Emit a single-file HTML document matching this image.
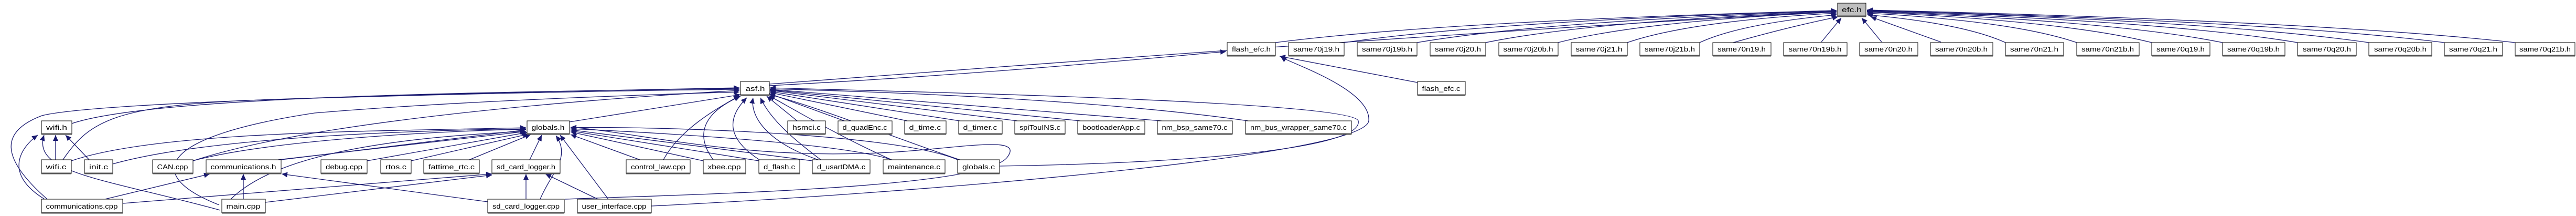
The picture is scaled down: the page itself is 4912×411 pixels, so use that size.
<!DOCTYPE html>
<html><head><meta charset="utf-8"><style>
html,body{margin:0;padding:0;background:#fff;width:4912px;height:411px;overflow:hidden}
svg{display:block}
text{font-family:"Liberation Sans",sans-serif;font-size:13px;fill:#000}
.e{fill:none;stroke:#191970;stroke-width:1.3}
.n{fill:#fff;stroke:#000;stroke-width:1}
.s{stroke:#555;stroke-width:3}
</style></head><body>
<svg width="4912" height="411" viewBox="0 0 4912 411" xmlns="http://www.w3.org/2000/svg">
<defs><marker id="a" markerUnits="userSpaceOnUse" markerWidth="12" markerHeight="10" refX="11" refY="5" orient="auto"><path d="M0,0 L11,5 L0,10 z" fill="#191970"/></marker></defs>
<g class="e" marker-end="url(#a)">
<!-- to efc.h -->
<path d="M2432,81 Q2753,40 3502,20"/>
<path d="M2563,81 Q2845,40 3502,20"/>
<path d="M2702,81 Q2942,40 3502,21"/>
<path d="M2833,81 Q3034,40 3502,22"/>
<path d="M2971,81 Q3130,40 3502,23"/>
<path d="M3103,81 Q3223,40 3502,25"/>
<path d="M3241,81 Q3319,45 3503,28"/>
<path d="M3305,81 Q3415,50 3505,32"/>
<path d="M3473,80 L3511,34"/>
<path d="M3588,80 L3550,34"/>
<path d="M3701,80 L3567,32"/>
<path d="M3824,81 Q3745,45 3560,28"/>
<path d="M3960,81 Q3840,40 3560,25"/>
<path d="M4103,81 Q3940,40 3560,23"/>
<path d="M4238,81 Q4035,40 3560,22"/>
<path d="M4381,81 Q4135,40 3560,21"/>
<path d="M4517,81 Q4230,40 3560,20"/>
<path d="M4661,81 Q4331,40 3560,20"/>
<path d="M4796,81 Q4425,40 3560,19"/>
<path d="M1467,160 C2000,120 2800,60 3502,22"/>
<!-- to flash_efc.h -->
<path d="M1467,163 C1900,140 2200,110 2338,98"/>
<path d="M2703,157 L2440,107"/>
<path d="M1242,392 C1700,370 2600,300 2610,230 C2615,170 2460,120 2442,108"/>
<!-- to asf.h -->
<path d="M1520,230 L1462,183"/>
<path d="M1610,230 L1467,178"/>
<path d="M1730,230 L1468,176"/>
<path d="M1830,230 L1468,174"/>
<path d="M1940,230 L1468,172"/>
<path d="M2060,230 L1468,171"/>
<path d="M2215,230 L1468,170"/>
<path d="M2380,230 C2100,190 1700,175 1468,169"/>
<path d="M1906,316 C2300,310 2600,280 2590,230 C2580,190 1600,172 1468,167"/>
<path d="M1086,232 L1412,180"/>
<path d="M137,235 C300,180 1000,175 1410,168"/>
<path d="M90,379 C0,300 0,250 80,220 C200,190 1000,175 1410,167"/>
<path d="M120,304 C170,230 220,200 500,190 C800,180 1200,172 1410,170"/>
<path d="M368,306 C600,230 1100,190 1410,172"/>
<path d="M418,390 C272,333 300,260 600,215 C900,190 1300,178 1410,175"/>
<path d="M1265,304 C1300,240 1380,200 1410,182"/>
<path d="M1360,304 C1320,250 1350,210 1412,183"/>
<path d="M1448,304 C1380,260 1390,220 1424,186"/>
<path d="M1560,304 C1460,270 1430,220 1436,186"/>
<path d="M1565,304 C1520,270 1470,230 1450,186"/>
<path d="M1700,304 C1600,260 1500,200 1466,182"/>
<path d="M1830,304 C1700,260 1550,200 1467,180"/>
<!-- to globals.h -->
<path d="M136,306 C300,250 700,250 1003,243"/>
<path d="M215,312 C400,260 800,248 1003,245"/>
<path d="M368,306 C500,270 800,250 1003,246"/>
<path d="M536,304 L1003,247"/>
<path d="M530,304 L1003,250"/>
<path d="M700,306 L1005,252"/>
<path d="M784,306 L1008,255"/>
<path d="M895,304 L1012,256"/>
<path d="M1010,304 L1033,257"/>
<path d="M1030,379 C1050,330 1090,300 1060,258"/>
<path d="M1160,379 L1068,257"/>
<path d="M1220,304 L1088,256"/>
<path d="M1341,306 L1088,251"/>
<path d="M1447,306 L1088,249"/>
<path d="M1549,306 L1088,247"/>
<path d="M1700,304 C1600,270 1200,250 1088,245"/>
<path d="M1826,304 C1700,250 1200,240 1088,243"/>
<path d="M1077,379 C1300,370 1870,360 1920,300 C1960,250 1800,290 1640,292 C1400,300 1200,250 1088,242"/>
<path d="M440,379 C500,320 640,266 1003,250"/>
<!-- to wifi.h -->
<path d="M106,304 L106,257"/>
<path d="M170,304 L125,257"/>
<path d="M85,379 C5,330 40,280 72,257"/>
<path d="M420,400 C200,340 60,330 84,257"/>
<!-- to communications.h -->
<path d="M200,379 L400,331"/>
<path d="M464,379 L464,331"/>
<path d="M930,384 L537,331"/>
<!-- to sd_card_logger.h -->
<path d="M234,387 L938,331"/>
<path d="M506,385 L938,333"/>
<path d="M1003,379 L1003,331"/>
<path d="M1140,379 L1040,331"/>
</g>
<g>
<rect x="3504" y="6" width="54" height="25" fill="#bfbfbf" stroke="#000"/><line class="s" x1="3504" y1="31" x2="3558" y2="31"/><text x="3531" y="23" text-anchor="middle" textLength="38" lengthAdjust="spacingAndGlyphs">efc.h</text>
</g>
<g id="nodes"></g>
<g>
<!-- row1 -->
<rect class="n" x="2340" y="81" width="92" height="25"/><text x="2386" y="98" text-anchor="middle" textLength="74" lengthAdjust="spacingAndGlyphs">flash_efc.h</text>
<rect class="n" x="2457" y="81" width="106" height="25"/><text x="2510" y="98" text-anchor="middle" textLength="88" lengthAdjust="spacingAndGlyphs">same70j19.h</text>
<rect class="n" x="2588" y="81" width="114" height="25"/><text x="2645" y="98" text-anchor="middle" textLength="96" lengthAdjust="spacingAndGlyphs">same70j19b.h</text>
<rect class="n" x="2727" y="81" width="106" height="25"/><text x="2780" y="98" text-anchor="middle" textLength="88" lengthAdjust="spacingAndGlyphs">same70j20.h</text>
<rect class="n" x="2858" y="81" width="113" height="25"/><text x="2914" y="98" text-anchor="middle" textLength="95" lengthAdjust="spacingAndGlyphs">same70j20b.h</text>
<rect class="n" x="2996" y="81" width="107" height="25"/><text x="3049" y="98" text-anchor="middle" textLength="89" lengthAdjust="spacingAndGlyphs">same70j21.h</text>
<rect class="n" x="3127" y="81" width="114" height="25"/><text x="3184" y="98" text-anchor="middle" textLength="96" lengthAdjust="spacingAndGlyphs">same70j21b.h</text>
<rect class="n" x="3266" y="81" width="111" height="25"/><text x="3321" y="98" text-anchor="middle" textLength="92" lengthAdjust="spacingAndGlyphs">same70n19.h</text>
<rect class="n" x="3401" y="81" width="121" height="25"/><text x="3461" y="98" text-anchor="middle" textLength="101" lengthAdjust="spacingAndGlyphs">same70n19b.h</text>
<rect class="n" x="3546" y="81" width="111" height="25"/><text x="3601" y="98" text-anchor="middle" textLength="92" lengthAdjust="spacingAndGlyphs">same70n20.h</text>
<rect class="n" x="3681" y="81" width="119" height="25"/><text x="3740" y="98" text-anchor="middle" textLength="100" lengthAdjust="spacingAndGlyphs">same70n20b.h</text>
<rect class="n" x="3824" y="81" width="111" height="25"/><text x="3879" y="98" text-anchor="middle" textLength="92" lengthAdjust="spacingAndGlyphs">same70n21.h</text>
<rect class="n" x="3960" y="81" width="119" height="25"/><text x="4019" y="98" text-anchor="middle" textLength="100" lengthAdjust="spacingAndGlyphs">same70n21b.h</text>
<rect class="n" x="4103" y="81" width="111" height="25"/><text x="4158" y="98" text-anchor="middle" textLength="92" lengthAdjust="spacingAndGlyphs">same70q19.h</text>
<rect class="n" x="4238" y="81" width="119" height="25"/><text x="4297" y="98" text-anchor="middle" textLength="100" lengthAdjust="spacingAndGlyphs">same70q19b.h</text>
<rect class="n" x="4381" y="81" width="112" height="25"/><text x="4437" y="98" text-anchor="middle" textLength="92" lengthAdjust="spacingAndGlyphs">same70q20.h</text>
<rect class="n" x="4517" y="81" width="120" height="25"/><text x="4577" y="98" text-anchor="middle" textLength="100" lengthAdjust="spacingAndGlyphs">same70q20b.h</text>
<rect class="n" x="4661" y="81" width="111" height="25"/><text x="4716" y="98" text-anchor="middle" textLength="92" lengthAdjust="spacingAndGlyphs">same70q21.h</text>
<rect class="n" x="4796" y="81" width="114" height="25"/><text x="4853" y="98" text-anchor="middle" textLength="98" lengthAdjust="spacingAndGlyphs">same70q21b.h</text>
<g class="s"><line x1="2340" y1="106" x2="2432" y2="106"/><line x1="2457" y1="106" x2="2563" y2="106"/><line x1="2588" y1="106" x2="2702" y2="106"/><line x1="2727" y1="106" x2="2833" y2="106"/><line x1="2858" y1="106" x2="2971" y2="106"/><line x1="2996" y1="106" x2="3103" y2="106"/><line x1="3127" y1="106" x2="3241" y2="106"/><line x1="3266" y1="106" x2="3377" y2="106"/><line x1="3401" y1="106" x2="3522" y2="106"/><line x1="3546" y1="106" x2="3657" y2="106"/><line x1="3681" y1="106" x2="3800" y2="106"/><line x1="3824" y1="106" x2="3935" y2="106"/><line x1="3960" y1="106" x2="4079" y2="106"/><line x1="4103" y1="106" x2="4214" y2="106"/><line x1="4238" y1="106" x2="4357" y2="106"/><line x1="4381" y1="106" x2="4493" y2="106"/><line x1="4517" y1="106" x2="4637" y2="106"/><line x1="4661" y1="106" x2="4772" y2="106"/><line x1="4796" y1="106" x2="4910" y2="106"/></g>
<!-- asf row -->
<rect class="n" x="1412" y="155" width="55" height="26"/><text x="1440" y="173" text-anchor="middle" textLength="37" lengthAdjust="spacingAndGlyphs">asf.h</text>
<rect class="n" x="2703" y="155" width="91" height="26"/><text x="2748" y="173" text-anchor="middle" textLength="73" lengthAdjust="spacingAndGlyphs">flash_efc.c</text>
<g class="s"><line x1="1412" y1="181" x2="1467" y2="181"/><line x1="2703" y1="181" x2="2794" y2="181"/></g>
<!-- row2 -->
<rect class="n" x="79" y="230" width="58" height="25"/><text x="108" y="247" text-anchor="middle" textLength="40" lengthAdjust="spacingAndGlyphs">wifi.h</text>
<rect class="n" x="1005" y="230" width="81" height="25"/><text x="1045" y="247" text-anchor="middle" textLength="63" lengthAdjust="spacingAndGlyphs">globals.h</text>
<rect class="n" x="1502" y="230" width="72" height="25"/><text x="1538" y="247" text-anchor="middle" textLength="54" lengthAdjust="spacingAndGlyphs">hsmci.c</text>
<rect class="n" x="1598" y="230" width="103" height="25"/><text x="1649" y="247" text-anchor="middle" textLength="85" lengthAdjust="spacingAndGlyphs">d_quadEnc.c</text>
<rect class="n" x="1725" y="230" width="79" height="25"/><text x="1764" y="247" text-anchor="middle" textLength="61" lengthAdjust="spacingAndGlyphs">d_time.c</text>
<rect class="n" x="1828" y="230" width="83" height="25"/><text x="1869" y="247" text-anchor="middle" textLength="65" lengthAdjust="spacingAndGlyphs">d_timer.c</text>
<rect class="n" x="1935" y="230" width="96" height="25"/><text x="1983" y="247" text-anchor="middle" textLength="78" lengthAdjust="spacingAndGlyphs">spiTouINS.c</text>
<rect class="n" x="2055" y="230" width="128" height="25"/><text x="2119" y="247" text-anchor="middle" textLength="110" lengthAdjust="spacingAndGlyphs">bootloaderApp.c</text>
<rect class="n" x="2207" y="230" width="143" height="25"/><text x="2278" y="247" text-anchor="middle" textLength="125" lengthAdjust="spacingAndGlyphs">nm_bsp_same70.c</text>
<rect class="n" x="2375" y="230" width="202" height="25"/><text x="2476" y="247" text-anchor="middle" textLength="184" lengthAdjust="spacingAndGlyphs">nm_bus_wrapper_same70.c</text>
<g class="s"><line x1="79" y1="255" x2="137" y2="255"/><line x1="1005" y1="255" x2="1086" y2="255"/><line x1="1502" y1="255" x2="1574" y2="255"/><line x1="1598" y1="255" x2="1701" y2="255"/><line x1="1725" y1="255" x2="1804" y2="255"/><line x1="1828" y1="255" x2="1911" y2="255"/><line x1="1935" y1="255" x2="2031" y2="255"/><line x1="2055" y1="255" x2="2183" y2="255"/><line x1="2207" y1="255" x2="2350" y2="255"/><line x1="2375" y1="255" x2="2577" y2="255"/></g>
<!-- row3 -->
<rect class="n" x="79" y="304" width="57" height="26"/><text x="107" y="322" text-anchor="middle" textLength="39" lengthAdjust="spacingAndGlyphs">wifi.c</text>
<rect class="n" x="161" y="304" width="54" height="26"/><text x="188" y="322" text-anchor="middle" textLength="36" lengthAdjust="spacingAndGlyphs">init.c</text>
<rect class="n" x="291" y="304" width="77" height="26"/><text x="329" y="322" text-anchor="middle" textLength="59" lengthAdjust="spacingAndGlyphs">CAN.cpp</text>
<rect class="n" x="393" y="304" width="143" height="26"/><text x="464" y="322" text-anchor="middle" textLength="125" lengthAdjust="spacingAndGlyphs">communications.h</text>
<rect class="n" x="612" y="304" width="88" height="26"/><text x="656" y="322" text-anchor="middle" textLength="70" lengthAdjust="spacingAndGlyphs">debug.cpp</text>
<rect class="n" x="726" y="304" width="58" height="26"/><text x="755" y="322" text-anchor="middle" textLength="40" lengthAdjust="spacingAndGlyphs">rtos.c</text>
<rect class="n" x="808" y="304" width="106" height="26"/><text x="861" y="322" text-anchor="middle" textLength="88" lengthAdjust="spacingAndGlyphs">fattime_rtc.c</text>
<rect class="n" x="938" y="304" width="130" height="26"/><text x="1003" y="322" text-anchor="middle" textLength="112" lengthAdjust="spacingAndGlyphs">sd_card_logger.h</text>
<rect class="n" x="1194" y="304" width="122" height="26"/><text x="1255" y="322" text-anchor="middle" textLength="104" lengthAdjust="spacingAndGlyphs">control_law.cpp</text>
<rect class="n" x="1341" y="304" width="81" height="26"/><text x="1381" y="322" text-anchor="middle" textLength="63" lengthAdjust="spacingAndGlyphs">xbee.cpp</text>
<rect class="n" x="1447" y="304" width="78" height="26"/><text x="1486" y="322" text-anchor="middle" textLength="60" lengthAdjust="spacingAndGlyphs">d_flash.c</text>
<rect class="n" x="1549" y="304" width="110" height="26"/><text x="1604" y="322" text-anchor="middle" textLength="92" lengthAdjust="spacingAndGlyphs">d_usartDMA.c</text>
<rect class="n" x="1684" y="304" width="118" height="26"/><text x="1743" y="322" text-anchor="middle" textLength="100" lengthAdjust="spacingAndGlyphs">maintenance.c</text>
<rect class="n" x="1826" y="304" width="80" height="26"/><text x="1866" y="322" text-anchor="middle" textLength="62" lengthAdjust="spacingAndGlyphs">globals.c</text>
<g class="s"><line x1="79" y1="330" x2="136" y2="330"/><line x1="161" y1="330" x2="215" y2="330"/><line x1="291" y1="330" x2="368" y2="330"/><line x1="393" y1="330" x2="536" y2="330"/><line x1="612" y1="330" x2="700" y2="330"/><line x1="726" y1="330" x2="784" y2="330"/><line x1="808" y1="330" x2="914" y2="330"/><line x1="938" y1="330" x2="1068" y2="330"/><line x1="1194" y1="330" x2="1316" y2="330"/><line x1="1341" y1="330" x2="1422" y2="330"/><line x1="1447" y1="330" x2="1525" y2="330"/><line x1="1549" y1="330" x2="1659" y2="330"/><line x1="1684" y1="330" x2="1802" y2="330"/><line x1="1826" y1="330" x2="1906" y2="330"/></g>
<!-- row4 -->
<rect class="n" x="79" y="379" width="155" height="26"/><text x="156" y="397" text-anchor="middle" textLength="137" lengthAdjust="spacingAndGlyphs">communications.cpp</text>
<rect class="n" x="423" y="379" width="83" height="26"/><text x="464" y="397" text-anchor="middle" textLength="65" lengthAdjust="spacingAndGlyphs">main.cpp</text>
<rect class="n" x="930" y="379" width="146" height="26"/><text x="1003" y="397" text-anchor="middle" textLength="128" lengthAdjust="spacingAndGlyphs">sd_card_logger.cpp</text>
<rect class="n" x="1101" y="379" width="141" height="26"/><text x="1171" y="397" text-anchor="middle" textLength="123" lengthAdjust="spacingAndGlyphs">user_interface.cpp</text>
<g class="s"><line x1="79" y1="405" x2="234" y2="405"/><line x1="423" y1="405" x2="506" y2="405"/><line x1="930" y1="405" x2="1076" y2="405"/><line x1="1101" y1="405" x2="1242" y2="405"/></g>
</g>
</svg>
</body></html>
